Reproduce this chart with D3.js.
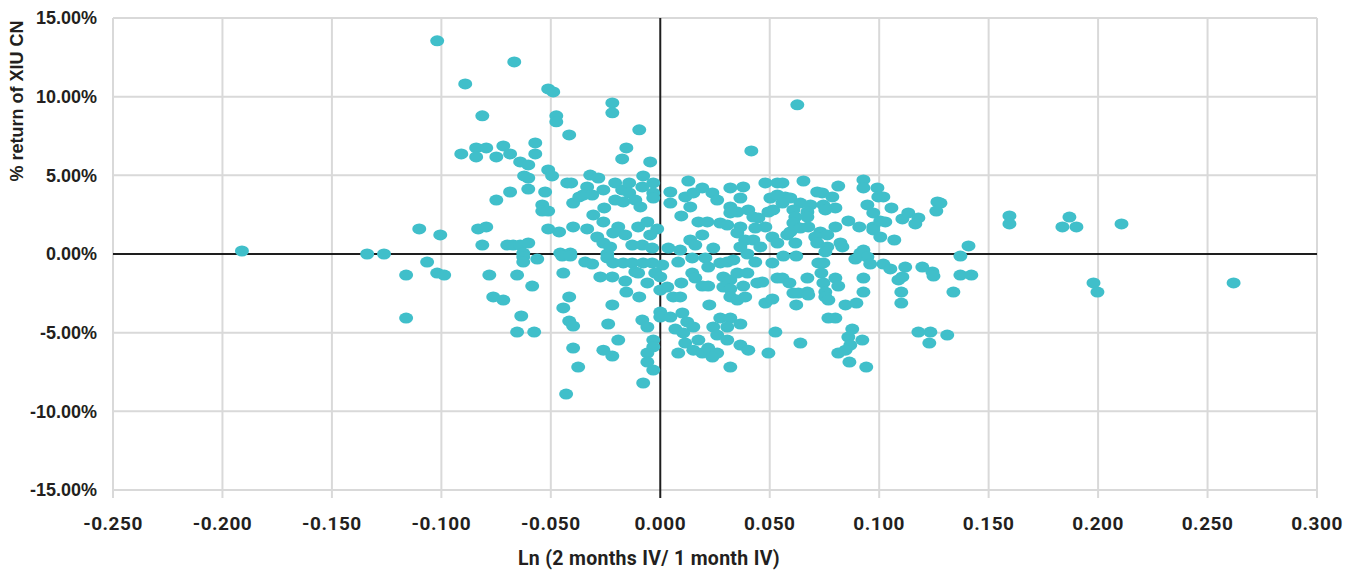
<!DOCTYPE html>
<html>
<head>
<meta charset="utf-8">
<script src="https://cdn.jsdelivr.net/npm/d3@7"></script>
<style>
  body { margin: 0; background: #fff; }
  .xtick { font-family: Roboto, "Liberation Sans", sans-serif; font-weight: 700; font-size: 19px; fill: #231f20; }
  .ytick { font-family: "Liberation Sans", Arial, sans-serif; font-weight: 700; font-size: 18px; fill: #231f20; }
  .title { font-weight: 700; fill: #231f20; }
</style>
</head>
<body>
<div id="chart"></div>
<script>
// tick values
const xTicks = [-0.25, -0.2, -0.15, -0.1, -0.05, 0, 0.05, 0.1, 0.15, 0.2, 0.25, 0.3];
const yTicks = [-15, -10, -5, 0, 5, 10, 15];

// [Ln(2m IV / 1m IV), % return of XIU CN]
const points = [
  [-0.1019,13.55],[-0.0891,10.81],[-0.0667,12.21],[-0.0512,10.49],[-0.0489,10.30],[-0.0813,8.78],[-0.0475,8.78],[-0.0475,8.40],[-0.0416,7.57],[-0.0909,6.36],
  [-0.0841,6.74],[-0.0841,6.17],[-0.0795,6.74],[-0.0749,6.17],[-0.0717,6.87],[-0.0686,6.36],[-0.0571,7.06],[-0.0571,6.36],[-0.0640,5.85],[-0.0603,5.66],
  [-0.0512,5.34],[-0.0494,4.96],[-0.0622,4.96],[-0.0603,4.83],[-0.0603,4.13],[-0.0686,3.94],[-0.0749,3.43],[-0.0526,3.94],[-0.0425,4.52],[-0.0407,4.52],
  [-0.0398,3.24],[-0.0370,3.63],[-0.0539,3.12],[-0.0539,2.73],[-0.0512,2.73],[-0.1101,1.59],[-0.1005,1.21],[-0.0832,1.59],[-0.0795,1.72],[-0.0512,1.59],
  [-0.0462,1.40],[-0.0398,1.72],[-0.0813,0.57],[-0.0699,0.57],[-0.0672,0.57],[-0.0640,0.57],[-0.0603,0.70],[-0.1262,0.00],[-0.0626,0.06],[-0.0457,0.06],
  [-0.0411,0.06],
  [-0.0219,9.60],[-0.0219,8.97],[-0.0096,7.89],[-0.0155,6.74],[-0.0174,6.04],[-0.0046,5.85],[0.0416,6.55],[-0.0320,5.02],[-0.0283,4.83],[-0.0078,4.96],
  [0.0128,4.64],[0.0480,4.52],[0.0535,4.52],[-0.0334,4.26],[-0.0352,3.75],[-0.0311,3.75],[-0.0260,4.07],[-0.0206,4.52],[-0.0174,4.07],[-0.0142,4.52],
  [-0.0142,3.88],[-0.0082,4.26],[-0.0032,4.52],[-0.0032,3.88],[0.0046,3.94],[0.0114,3.63],[0.0151,3.88],[0.0192,4.20],[0.0238,3.88],[0.0260,3.43],
  [0.0320,4.20],[0.0379,4.26],[0.0366,3.56],[0.0503,3.56],[0.0535,3.75],[-0.0206,3.43],[-0.0169,3.31],[-0.0114,3.43],[-0.0091,2.99],[-0.0032,3.56],
  [0.0046,3.24],[0.0137,2.99],[-0.0256,2.93],[0.0320,2.99],[0.0352,2.67],[0.0402,2.80],[0.0425,2.35],[0.0320,2.61],[0.0494,2.67],[0.0516,2.80],
  [-0.0306,2.48],[-0.0260,2.04],[0.0096,2.42],[0.0174,2.04],[0.0215,2.04],[0.0274,1.97],[0.0306,1.84],[0.0366,1.72],[0.0448,2.29],[0.0480,1.72],
  [0.0434,1.65],[-0.0334,1.59],[-0.0192,1.72],[-0.0215,1.34],[-0.0160,1.21],[-0.0101,1.72],[-0.0059,2.04],[-0.0014,1.59],[-0.0046,1.21],[-0.0288,1.08],
  [-0.0260,0.70],[-0.0229,0.45],[-0.0128,0.57],[-0.0082,0.57],[-0.0037,0.38],[0.0037,0.38],[0.0091,0.25],[0.0137,0.89],[0.0192,1.21],[0.0160,0.57],
  [0.0242,0.38],[0.0352,1.34],[0.0388,0.89],[0.0366,0.45],[0.0425,0.89],[0.0457,0.45],[0.0512,1.08],[0.0535,0.70],
  [0.0626,9.48],[0.0654,4.64],[0.0558,4.52],[0.0813,4.32],[0.0928,4.71],[0.0928,4.20],[0.0992,4.20],[0.0717,3.94],[0.0740,3.88],[0.0786,3.63],
  [0.0571,3.63],[0.0594,3.56],[0.0558,3.24],[0.0640,3.24],[0.0686,3.12],[0.0745,3.12],[0.0800,2.93],[0.0754,2.80],[0.0996,3.63],[0.1019,3.63],
  [0.0946,3.12],[0.0973,2.61],[0.1056,2.93],[0.1266,3.31],[0.1280,3.24],[0.1261,2.73],[0.0608,2.80],[0.0672,2.67],[0.0617,2.35],[0.0672,2.35],
  [0.0608,1.97],[0.0859,2.10],[0.0909,1.72],[0.0800,1.72],[0.0973,1.72],[0.0973,1.53],[0.1028,2.04],[0.1005,2.10],[0.1106,2.23],[0.1133,2.61],
  [0.1179,2.29],[0.1165,1.91],[0.0594,1.40],[0.0640,1.65],[0.0676,1.72],[0.0731,1.40],[0.0708,1.08],[0.0763,1.21],[0.0617,0.70],[0.0580,1.21],
  [0.0717,0.70],[0.0763,0.45],[0.0823,0.70],[0.0832,0.45],[0.1005,1.08],[0.1069,0.89],[0.0928,0.25],[0.0754,0.13],[0.1408,0.51],[0.1371,-0.13],
  [-0.1065,-0.51],[-0.1161,-1.34],[-0.1019,-1.21],[-0.0987,-1.34],[-0.0781,-1.34],[-0.0654,-1.34],[-0.0585,-2.04],[-0.0763,-2.73],[-0.0717,-2.93],[-0.1161,-4.07],
  [-0.0635,-3.94],[-0.0654,-4.96],[-0.0576,-4.96],[-0.0626,-0.19],[-0.0626,-0.51],[-0.0562,-0.32],[-0.0448,-0.13],[-0.0411,-0.13],[-0.0443,-1.21],[-0.0416,-2.73],
  [-0.0443,-3.43],[-0.0416,-4.26],[-0.0398,-4.58],[-0.0398,-5.98],[-0.0375,-7.19],[-0.0430,-8.90],[-0.1911,0.19],[-0.1339,0.00],
  [-0.0242,0.00],[-0.0242,-0.25],[-0.0343,-0.51],[-0.0311,-0.64],[-0.0215,-0.57],[-0.0169,-0.57],[-0.0128,-0.57],[-0.0078,-0.57],[-0.0037,-0.57],[0.0009,-0.70],
  [0.0082,-0.51],[0.0146,-0.25],[0.0206,-0.25],[0.0219,-0.83],[0.0274,-0.57],[0.0306,-0.51],[0.0334,-0.38],[0.0398,0.00],[0.0434,-0.51],[0.0512,-0.57],
  [-0.0274,-1.46],[-0.0219,-1.46],[-0.0160,-1.72],[-0.0114,-1.14],[-0.0101,-1.21],[-0.0059,-1.84],[-0.0023,-1.21],[0.0000,-1.46],[0.0000,-2.29],[0.0032,-2.10],
  [0.0096,-1.84],[0.0146,-1.21],[0.0160,-1.53],[0.0192,-2.04],[0.0219,-2.04],[0.0288,-1.46],[0.0320,-1.65],[0.0352,-1.21],[0.0398,-1.21],[0.0288,-2.10],
  [0.0320,-2.23],[0.0379,-2.04],[0.0443,-1.84],[0.0466,-1.78],[0.0535,-1.53],[-0.0155,-2.42],[-0.0096,-2.73],[0.0059,-2.73],[0.0091,-2.73],[0.0320,-2.73],
  [0.0352,-2.93],[0.0388,-2.73],[0.0480,-3.12],[0.0512,-2.86],[-0.0219,-3.24],[0.0224,-3.24],[0.0000,-3.69],[0.0000,-4.01],[0.0046,-4.01],[0.0101,-3.75],
  [0.0123,-4.32],[0.0151,-4.64],[-0.0082,-4.20],[-0.0059,-4.64],[-0.0238,-4.45],[0.0069,-4.77],[0.0105,-5.02],[0.0242,-4.64],[0.0274,-4.07],[0.0320,-4.07],
  [0.0306,-4.64],[0.0366,-4.45],[0.0260,-5.15],[0.0306,-5.47],[0.0526,-4.96],[-0.0192,-5.47],[-0.0032,-5.47],[-0.0032,-5.91],[0.0114,-5.66],[0.0174,-5.47],
  [-0.0260,-6.11],[-0.0219,-6.49],[-0.0059,-6.30],[-0.0059,-6.87],[0.0082,-6.30],[0.0151,-6.11],[0.0192,-6.30],[0.0219,-5.98],[0.0260,-6.30],[0.0238,-6.55],
  [0.0366,-5.79],[0.0402,-6.11],[0.0494,-6.30],[-0.0032,-7.38],[0.0320,-7.19],[-0.0078,-8.20],
  [0.0562,-0.13],[0.0621,-0.13],[0.0914,0.06],[0.0946,-0.19],[0.0891,-0.32],[0.0959,-0.64],[0.0722,-0.57],[0.0745,-0.57],[0.1019,-0.64],[0.1051,-0.95],
  [0.1119,-0.83],[0.1197,-0.83],[0.1243,-1.14],[0.1248,-1.40],[0.1371,-1.34],[0.1421,-1.34],[0.0558,-1.53],[0.0590,-1.84],[0.0672,-1.53],[0.0736,-1.21],
  [0.0745,-1.84],[0.0800,-1.53],[0.0813,-2.04],[0.0928,-1.53],[0.1088,-1.65],[0.1106,-1.46],[0.0608,-2.48],[0.0631,-2.48],[0.0672,-2.42],[0.0676,-2.61],
  [0.0621,-3.24],[0.0754,-2.42],[0.0754,-2.73],[0.0768,-2.93],[0.0928,-2.42],[0.1101,-2.42],[0.1101,-3.12],[0.1339,-2.42],[0.0846,-3.24],[0.0896,-3.12],
  [0.0768,-4.07],[0.0800,-4.07],[0.0877,-4.77],[0.0859,-5.28],[0.0923,-5.47],[0.0868,-5.79],[0.0640,-5.66],[0.0813,-6.30],[0.0846,-6.11],[0.0864,-6.87],
  [0.0941,-7.19],[0.1179,-4.96],[0.1234,-4.96],[0.1311,-5.15],[0.1229,-5.66],
  [0.1595,2.42],[0.1595,1.91],[0.1869,2.35],[0.1837,1.72],[0.1901,1.72],[0.2107,1.91],[0.1979,-1.84],[0.1997,-2.42],[0.2619,-1.84]
];

const W = 1357, H = 574;
const plot = { left: 113, right: 1317, top: 18, bottom: 490 };

const svg = d3.select("#chart").append("svg")
  .attr("width", W)
  .attr("height", H);

const x = d3.scaleLinear().domain([-0.25, 0.3]).range([plot.left, plot.right]);
const y = d3.scaleLinear().domain([-15, 15]).range([plot.bottom, plot.top]);

// gridlines
svg.append("g").selectAll("line")
  .data(yTicks.filter(d => d !== 0))
  .join("line")
  .attr("x1", x(-0.25)).attr("x2", x(0.3))
  .attr("y1", d => y(d)).attr("y2", d => y(d))
  .attr("stroke", "#d9d9d9").attr("stroke-width", 2);

svg.append("g").selectAll("line")
  .data(xTicks.filter(d => d !== 0))
  .join("line")
  .attr("x1", d => x(d)).attr("x2", d => x(d))
  .attr("y1", y(15)).attr("y2", y(-15) + 8)
  .attr("stroke", "#d9d9d9").attr("stroke-width", 2);

// zero lines
svg.append("line")
  .attr("x1", x(-0.25)).attr("x2", x(0.3))
  .attr("y1", y(0)).attr("y2", y(0))
  .attr("stroke", "#1e1e1e").attr("stroke-width", 2);
svg.append("line")
  .attr("x1", x(0)).attr("x2", x(0))
  .attr("y1", y(15)).attr("y2", y(-15) + 8)
  .attr("stroke", "#1e1e1e").attr("stroke-width", 2);

// tick labels
svg.append("g").selectAll("text")
  .data(xTicks)
  .join("text")
  .attr("class", "xtick")
  .attr("x", d => x(d))
  .attr("y", 530)
  .attr("text-anchor", "middle")
  .style("letter-spacing", "0.5px")
  .text(d => d.toFixed(3));

svg.append("g").selectAll("text")
  .data(yTicks)
  .join("text")
  .attr("class", "ytick")
  .attr("x", 97)
  .attr("y", d => y(d))
  .attr("dy", "0.35em")
  .attr("text-anchor", "end")
  .text(d => d.toFixed(2) + "%");

// axis titles
svg.append("text")
  .attr("class", "title")
  .attr("x", 649)
  .attr("y", 565)
  .attr("text-anchor", "middle")
  .style("font-family", "Roboto, sans-serif")
  .style("font-size", "19.5px")
  .style("letter-spacing", "0.3px")
  .text("Ln (2 months IV/ 1 month IV)");

svg.append("text")
  .attr("class", "title")
  .attr("transform", `translate(23, 101) rotate(-90)`)
  .attr("text-anchor", "middle")
  .style("font-family", "'Liberation Sans', Arial, sans-serif")
  .style("font-size", "18px")
  .text("% return of XIU CN");

// points
svg.append("g").selectAll("ellipse")
  .data(points)
  .join("ellipse")
  .attr("cx", d => x(d[0]))
  .attr("cy", d => y(d[1]))
  .attr("rx", 7)
  .attr("ry", 5.5)
  .attr("fill", "#40bfca");
</script>
</body>
</html>
